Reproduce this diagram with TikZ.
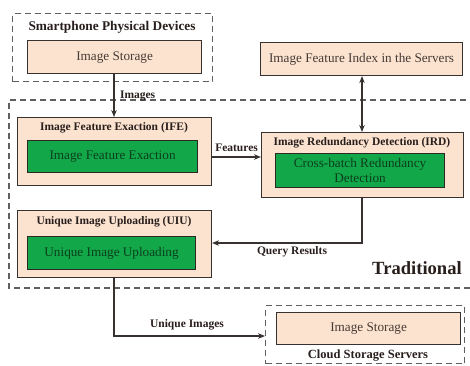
\documentclass[tikz,border=0pt]{standalone}
\usepackage{fontspec}
\setmainfont{Liberation Serif}
\usetikzlibrary{arrows.meta,calc}
\definecolor{peach}{RGB}{251,227,208}
\definecolor{boxgreen}{RGB}{18,168,74}
\definecolor{txtgreen}{RGB}{12,62,28}
\definecolor{txtgray}{RGB}{70,58,52}
\definecolor{titlecol}{RGB}{40,30,28}
\definecolor{linecol}{RGB}{55,50,48}
\definecolor{dashcol}{RGB}{95,95,95}
\tikzset{
  peachbox/.style={draw=linecol, line width=1.1pt, fill=peach, inner sep=0pt, anchor=north west},
  greenbox/.style={draw=linecol!80!black, line width=1.1pt, fill=boxgreen, inner sep=0pt, anchor=north west, text=txtgreen, font=\fontsize{13.2}{15.5}\selectfont, align=center},
  boxtext/.style={text=txtgray, font=\fontsize{13.2}{15.5}\selectfont},
  titletext/.style={text=titlecol, font=\bfseries\fontsize{11.5}{13}\selectfont},
  bigtitle/.style={text=titlecol, font=\bfseries\fontsize{13.3}{15}\selectfont},
  lbl/.style={text=titlecol, font=\bfseries\fontsize{11.5}{13}\selectfont},
  dashedbox/.style={draw=dashcol, line width=1.1pt, dash pattern=on 6pt off 4pt},
  conn/.style={draw=linecol, line width=1.4pt, -{Stealth[length=7pt,width=5.5pt]}},
}
\begin{document}
\begin{tikzpicture}[x=1pt,y=-1pt]
\useasboundingbox (0,0) rectangle (470,365);
% Smartphone physical devices
\node[dashedbox, minimum width=200pt, minimum height=68pt, inner sep=0pt, anchor=north west] (phone) at (12,13) {};
\node[bigtitle] (phonetitle) at (112,27) {Smartphone Physical Devices};
\node[peachbox, minimum width=174pt, minimum height=33pt] (store1) at (27,40) {};
\node[boxtext] (store1t) at (store1.center) {Image Storage};
% Index
\node[peachbox, minimum width=202pt, minimum height=33pt] (index) at (260,42) {};
\node[boxtext] (indext) at (index.center) {Image Feature Index in the Servers};
% Traditional
\draw[dashedbox] (476,100) -- (9,100) -- (9,288) -- (476,288);
\node[text=titlecol, font=\bfseries\fontsize{18.6}{20}\selectfont] (trad) at (417,268) {Traditional};
% IFE
\node[peachbox, minimum width=194pt, minimum height=68pt] (ife) at (17,117) {};
\node[titletext] (ifet) at (114,128) {Image Feature Exaction (IFE)};
\node[greenbox, minimum width=170pt, minimum height=32pt] (ifeg) at (27,140) {Image Feature Exaction};
% IRD
\node[peachbox, minimum width=202pt, minimum height=65pt] (ird) at (261,132) {};
\node[titletext] (irdt) at (362,143) {Image Redundancy Detection (IRD)};
\node[greenbox, minimum width=169pt, minimum height=34pt, font=\fontsize{13.2}{14.5}\selectfont] (irdg) at (275,153) {Cross-batch Redundancy\\Detection};
% UIU
\node[peachbox, minimum width=194pt, minimum height=67pt] (uiu) at (17,210) {};
\node[titletext] (uiut) at (114,222) {Unique Image Uploading (UIU)};
\node[greenbox, minimum width=168pt, minimum height=33pt] (uiug) at (27,236) {Unique Image Uploading};
% Cloud
\node[dashedbox, minimum width=199pt, minimum height=58pt, inner sep=0pt, anchor=north west] (cloud) at (265,305) {};
\node[peachbox, minimum width=184pt, minimum height=32pt] (store2) at (276,312) {};
\node[boxtext] (store2t) at (store2.center) {Image Storage};
\node[bigtitle, font=\bfseries\fontsize{12.5}{14}\selectfont] (cloudt) at (368,356) {Cloud Storage Servers};
% connectors
\draw[conn] (store1.south -| 114,0) -- (ife.north -| 114,0) node[lbl, midway, right=2pt] (imgl) {Images};
\draw[conn, {Stealth[length=7pt,width=5.5pt]}-{Stealth[length=7pt,width=5.5pt]}] (index.south -| 362,0) -- (ird.north -| 362,0);
\draw[conn] (ife.east |- 0,157) -- (ird.west |- 0,157) node[lbl, midway, above=1pt] (featl) {Features};
\draw[conn] (ird.south -| 362,0) -- (362,243) -- (uiu.east |- 0,243);
\node[lbl] (qrl) at (292,252) {Query Results};
\draw[conn] (uiu.south -| 114,0) -- (114,336) -- (cloud.west |- 0,336);
\node[lbl] (uil) at (187,325) {Unique Images};
\end{tikzpicture}
\end{document}
